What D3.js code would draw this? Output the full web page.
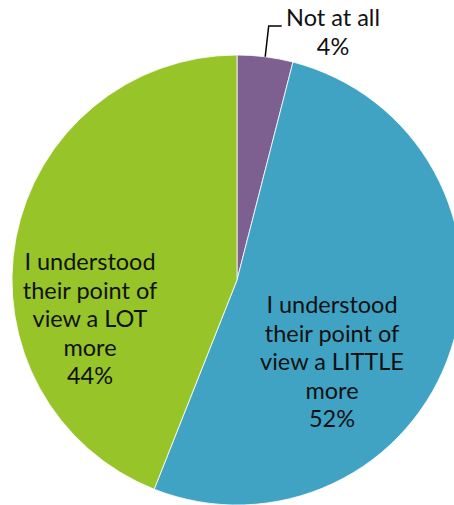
<!DOCTYPE html>
<html>
<head>
<meta charset="utf-8">
<script src="https://cdn.jsdelivr.net/npm/d3@7"></script>
<style>
  html, body { margin: 0; padding: 0; background: #fff; }
  svg { display: block; }
  text { font-family: "Lato", "Open Sans", sans-serif; fill: #111; }
</style>
</head>
<body>
<svg id="chart" width="454" height="505"></svg>
<script>
// Survey answers, clockwise from 12 o'clock
const categories = ["Not at all", "I understood their point of view a LITTLE more", "I understood their point of view a LOT more"];
const values = [4, 52, 44];
const labelLines = [
  ["Not at all"],
  ["I understood", "their point of", "view a LITTLE", "more"],
  ["I understood", "their point of", "view a LOT", "more"]
];
const colors = ["#7d608f", "#40a3c3", "#97c428"];

const svg = d3.select("#chart");
const cx = 237, cy = 280, r = 225;

const data = categories.map((c, i) => ({ name: c, value: values[i], lines: labelLines[i], color: colors[i] }));

const pie = d3.pie().value(d => d.value).sort(null);
const arcs = pie(data);
const arc = d3.arc().innerRadius(0).outerRadius(r);

const g = svg.append("g").attr("transform", `translate(${cx},${cy})`);

g.selectAll("path.slice")
  .data(arcs)
  .join("path")
  .attr("class", "slice")
  .attr("d", arc)
  .attr("fill", d => d.data.color)
  .attr("stroke", "#ffffff")
  .attr("stroke-width", 0.8);

const fmt = d => d3.format(".0f")(d.data.value) + "%";
const fontSize = 23.5, lineH = 28.5;

// Label positions relative to the pie centre
const labelPos = [
  { x: 96, y: -254 },   // outside, top right
  { x: 95, y: 33 },     // blue slice
  { x: -147, y: -10 }   // green slice
];

arcs.forEach((d, i) => {
  const p = labelPos[i];
  const t = g.append("text")
    .attr("text-anchor", "middle")
    .attr("font-size", fontSize);
  const lines = d.data.lines.concat([fmt(d)]);
  lines.forEach((ln, k) => {
    t.append("tspan")
      .attr("x", p.x)
      .attr("y", p.y + k * lineH)
      .text(ln);
  });
});

// Leader line for the small slice
const small = arcs[0];
const mid = (small.startAngle + small.endAngle) / 2;
const edge = [Math.sin(mid) * r, -Math.cos(mid) * r];
const elbow = [edge[0] + 3.5, -254];
g.append("path")
  .attr("d", d3.line()([edge, elbow, [elbow[0] + 13, elbow[1]]]))
  .attr("fill", "none")
  .attr("stroke", "#000")
  .attr("stroke-width", 1.5);
</script>
</body>
</html>
